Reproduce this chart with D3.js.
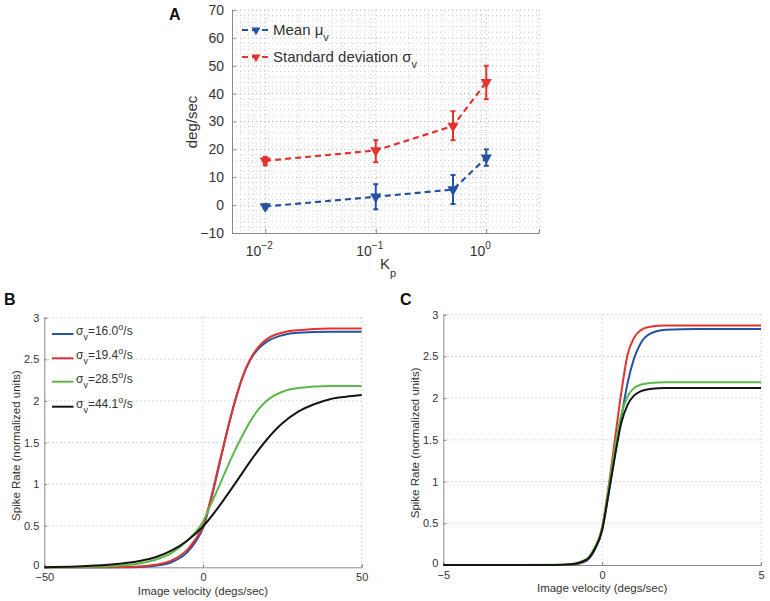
<!DOCTYPE html>
<html>
<head>
<meta charset="utf-8">
<script src="https://cdn.jsdelivr.net/npm/d3@7"></script>
<style>
body { margin: 0; background: #fff; }
svg { display: block; font-family: "Liberation Sans", Arial, Helvetica, sans-serif; }
</style>
</head>
<body>
<svg id="chart" width="770" height="601"></svg>
<script>
// ---------- Panel A data ----------
const kp = [0.01, 0.1, 0.5, 1];
const meanMu = [-0.5, 3.0, 5.6, 17.0];
const meanLo = [-1.3, -1.5, 0.4, 14.1];
const meanHi = [0.3, 7.5, 10.8, 20.0];
const sdSigma = [15.9, 19.6, 28.4, 44.1];
const sdLo = [14.3, 15.4, 23.3, 38.0];
const sdHi = [17.3, 23.3, 33.7, 50.0];
const aYTicks = [-10, 0, 10, 20, 30, 40, 50, 60, 70];
const aXTicks = [0.01, 0.1, 1];
const aXTickExp = ["−2", "−1", "0"];
const aLegend = [
  { name: "Mean μ", sub: "v", color: "#2552a3" },
  { name: "Standard deviation σ", sub: "v", color: "#e5322d" }
];

// ---------- Panel B data (velocity in degs/sec) ----------
const bTicksX = [-50, 0, 50];
const bTicksY = [0, 0.5, 1, 1.5, 2, 2.5, 3];
const bSigmaLabels = ["16.0", "19.4", "28.5", "44.1"];
const curveColors = ["#2552a3", "#e5322d", "#5cb84a", "#151515"];
const bX_blue  = [-50, -30, -20, -15, -10, -5, -2.5, 0, 2.5, 5, 7.5, 10, 12.5, 15, 17.5, 20, 25, 30, 40, 50];
const bY_blue  = [0, 0.001, 0.005, 0.02, 0.06, 0.18, 0.3, 0.47, 0.81, 1.21, 1.62, 1.99, 2.29, 2.5, 2.63, 2.71, 2.79, 2.82, 2.83, 2.83];
const bX_red   = [-50, -30, -20, -15, -10, -5, -2.5, 0, 2.5, 5, 7.5, 10, 12.5, 15, 17.5, 20, 25, 30, 40, 50];
const bY_red   = [0, 0.002, 0.01, 0.03, 0.08, 0.21, 0.33, 0.5, 0.83, 1.23, 1.62, 1.98, 2.29, 2.51, 2.65, 2.74, 2.82, 2.85, 2.87, 2.87];
const bX_green = [-50, -40, -30, -20, -15, -10, -5, 0, 2.5, 5, 7.5, 10, 12.5, 15, 17.5, 20, 25, 30, 40, 50];
const bY_green = [0, 0.003, 0.012, 0.045, 0.09, 0.17, 0.32, 0.55, 0.76, 0.97, 1.19, 1.4, 1.59, 1.76, 1.9, 2.0, 2.11, 2.155, 2.18, 2.18];
const bX_black = [-50, -40, -30, -20, -15, -10, -5, 0, 5, 10, 15, 20, 25, 30, 35, 40, 45, 50];
const bY_black = [0.002, 0.01, 0.03, 0.075, 0.12, 0.2, 0.32, 0.49, 0.73, 1.0, 1.28, 1.53, 1.73, 1.87, 1.96, 2.02, 2.05, 2.07];

// ---------- Panel C data (velocity in degs/sec) ----------
const cTicksX = [-5, 0, 5];
const cTicksY = [0, 0.5, 1, 1.5, 2, 2.5, 3];
const cX_blue  = [-5, -1.5, -1, -0.5, -0.25, 0, 0.2, 0.4, 0.6, 0.8, 1.0, 1.2, 1.5, 2, 3, 5];
const cY_blue  = [0, 0, 0.003, 0.05, 0.17, 0.42, 0.85, 1.32, 1.76, 2.18, 2.47, 2.65, 2.77, 2.82, 2.83, 2.83];
const cX_red   = [-5, -1.5, -1, -0.5, -0.25, 0, 0.2, 0.4, 0.6, 0.8, 1.0, 1.2, 1.5, 2, 3, 5];
const cY_red   = [0, 0, 0.003, 0.06, 0.18, 0.45, 0.93, 1.5, 2.06, 2.52, 2.72, 2.81, 2.855, 2.87, 2.87, 2.87];
const cX_green = [-5, -1.5, -1, -0.5, -0.25, 0, 0.2, 0.4, 0.6, 0.8, 1.0, 1.2, 1.5, 2, 3, 5];
const cY_green = [0, 0.002, 0.01, 0.07, 0.2, 0.45, 0.92, 1.4, 1.8, 2.02, 2.12, 2.16, 2.18, 2.19, 2.19, 2.19];
const cX_black = [-5, -1.5, -1, -0.5, -0.25, 0, 0.2, 0.4, 0.6, 0.8, 1.0, 1.2, 1.5, 2, 3, 5];
const cY_black = [0, 0.001, 0.008, 0.06, 0.18, 0.42, 0.85, 1.3, 1.7, 1.92, 2.03, 2.08, 2.11, 2.12, 2.12, 2.12];

const svg = d3.select("#chart");
const AXIS = "#8a8a8a", GRID = "#b8b8b8", GRID_MINOR = "#d2d2d2", TXT = "#333";

function gridLine(g, x1, y1, x2, y2, color) {
  g.append("line").attr("x1", x1).attr("y1", y1).attr("x2", x2).attr("y2", y2)
    .attr("stroke", color || GRID).attr("stroke-width", 1).attr("stroke-dasharray", "1,3");
}

// ================= Panel A =================
(function () {
  const L = 232, R = 539, T = 10, B = 233;
  const x = d3.scaleLog().domain([0.005, 3]).range([L, R]);
  const y = d3.scaleLinear().domain([-10, 70]).range([B, T]);
  const g = svg.append("g");

  // grid: minor + major
  const gg = g.append("g");
  const xGrid = [];
  [0.001, 0.01, 0.1, 1].forEach(d => { for (let k = 1; k <= 9; k++) { const v = d * k; if (v > 0.005 && v < 3.0001) xGrid.push(v); } });
  xGrid.forEach(v => gridLine(gg, x(v), T, x(v), B, aXTicks.includes(v) || v === 3 ? GRID : GRID_MINOR));
  d3.range(-8, 71, 2).forEach(v => gridLine(gg, L, y(v), R, y(v), v % 10 === 0 ? GRID : GRID_MINOR));

  // axes (left + bottom) via d3 axes
  const yAxis = g.append("g").attr("transform", `translate(${L},0)`)
    .call(d3.axisLeft(y).tickValues(aYTicks).tickSize(-4).tickPadding(8).tickFormat(d => d < 0 ? "−" + Math.abs(d) : d));
  yAxis.select(".domain").attr("stroke", AXIS);
  yAxis.selectAll(".tick line").attr("stroke", AXIS);
  yAxis.selectAll("text").attr("fill", TXT).attr("font-size", 14).attr("font-family", "Liberation Sans, Arial, sans-serif");

  const xAxis = g.append("g").attr("transform", `translate(0,${B})`)
    .call(d3.axisBottom(x).tickValues(aXTicks).tickSize(-4).tickFormat(""));
  xAxis.select(".domain").attr("stroke", AXIS);
  xAxis.selectAll(".tick line").attr("stroke", AXIS);
  aXTicks.forEach((v, i) => {
    const t = g.append("text").attr("x", x(v) - 6).attr("y", 256).attr("text-anchor", "middle")
      .attr("font-size", 14).attr("fill", TXT);
    t.append("tspan").text("10");
    t.append("tspan").attr("dy", -7).attr("font-size", 10).text(aXTickExp[i]);
  });

  // labels
  g.append("text").attr("transform", `translate(197,122) rotate(-90)`).attr("text-anchor", "middle")
    .attr("font-size", 15).attr("fill", TXT).text("deg/sec");
  const kl = g.append("text").attr("x", 380).attr("y", 269).attr("font-size", 15).attr("fill", TXT);
  kl.append("tspan").text("K");
  kl.append("tspan").attr("dy", 8).attr("font-size", 11).text("p");
  g.append("text").attr("x", 169).attr("y", 20).attr("font-size", 16).attr("font-weight", "bold").attr("fill", "#111").text("A");

  const tri = d3.symbol().type(d3.symbolTriangle).size(55);
  const series = [
    { v: meanMu, lo: meanLo, hi: meanHi, c: aLegend[0].color },
    { v: sdSigma, lo: sdLo, hi: sdHi, c: aLegend[1].color }
  ];
  const line = d3.line().x((d, i) => x(kp[i])).y(d => y(d));
  series.forEach(s => {
    g.append("path").attr("d", line(s.v)).attr("fill", "none").attr("stroke", s.c)
      .attr("stroke-width", 2.2).attr("stroke-dasharray", "6,4");
    kp.forEach((k, i) => {
      const cx = x(k);
      g.append("line").attr("x1", cx).attr("x2", cx).attr("y1", y(s.lo[i])).attr("y2", y(s.hi[i]))
        .attr("stroke", s.c).attr("stroke-width", 2);
      [s.lo[i], s.hi[i]].forEach(e => g.append("line").attr("x1", cx - 2.5).attr("x2", cx + 2.5)
        .attr("y1", y(e)).attr("y2", y(e)).attr("stroke", s.c).attr("stroke-width", 2));
      g.append("path").attr("d", tri).attr("transform", `translate(${cx},${y(s.v[i])}) rotate(180)`)
        .attr("fill", s.c);
    });
  });

  // legend
  aLegend.forEach((d, i) => {
    const ly = 30 + i * 27;
    g.append("line").attr("x1", 242).attr("x2", 270).attr("y1", ly).attr("y2", ly)
      .attr("stroke", d.color).attr("stroke-width", 2.2).attr("stroke-dasharray", "6,4");
    g.append("path").attr("d", d3.symbol().type(d3.symbolTriangle).size(35))
      .attr("transform", `translate(256,${ly}) rotate(180)`).attr("fill", d.color);
    const t = g.append("text").attr("x", 273).attr("y", ly + 5).attr("font-size", 15).attr("fill", TXT);
    t.append("tspan").text(d.name);
    t.append("tspan").attr("dy", 6).attr("font-size", 11).text(d.sub);
  });
})();

// ================= Panels B and C =================
function curvePanel(opt) {
  const { L, R, T, B, xDom, xTicks, yTicks, curves, letter, letterX, ylabX, xlabY } = opt;
  const x = d3.scaleLinear().domain(xDom).range([L, R]);
  const y = d3.scaleLinear().domain([0, 3]).range([B, T]);
  const g = svg.append("g");
  const gg = g.append("g");
  xTicks.slice(1).forEach(v => gridLine(gg, x(v), T, x(v), B));
  yTicks.slice(1).forEach(v => gridLine(gg, L, y(v), R, y(v)));

  const fmt = d => (d < 0 ? "−" + Math.abs(d) : String(d));
  const yAxis = g.append("g").attr("transform", `translate(${L},0)`)
    .call(d3.axisLeft(y).tickValues(yTicks).tickSize(-3).tickPadding(5).tickFormat(fmt));
  const xAxis = g.append("g").attr("transform", `translate(0,${B})`)
    .call(d3.axisBottom(x).tickValues(xTicks).tickSize(-3).tickPadding(5).tickFormat(fmt));
  [yAxis, xAxis].forEach(a => {
    a.select(".domain").attr("stroke", AXIS);
    a.selectAll(".tick line").attr("stroke", AXIS);
    a.selectAll("text").attr("fill", TXT).attr("font-size", 11).attr("font-family", "Liberation Sans, Arial, sans-serif");
  });
  // nudge the "0" y label up slightly so it clears the first x label
  yAxis.selectAll(".tick text").filter(d => d === 0).attr("dy", "0.1em");
  xAxis.selectAll(".tick text").attr("dy", "0.8em");

  const line = d3.line().x(d => x(d[0])).y(d => y(d[1])).curve(d3.curveMonotoneX);
  curves.forEach(c => {
    g.append("path").attr("d", line(c.xs.map((v, i) => [v, c.ys[i]])))
      .attr("fill", "none").attr("stroke", c.color).attr("stroke-width", 2);
  });

  g.append("text").attr("x", (L + R) / 2).attr("y", xlabY).attr("text-anchor", "middle")
    .attr("font-size", 11.5).attr("fill", TXT).text("Image velocity (degs/sec)");
  g.append("text").attr("transform", `translate(${ylabX},${(T + B) / 2 + 3}) rotate(-90)`).attr("text-anchor", "middle")
    .attr("font-size", 11.5).attr("fill", TXT).text("Spike Rate (normalized units)");
  g.append("text").attr("x", letterX).attr("y", 305).attr("font-size", 16).attr("font-weight", "bold")
    .attr("fill", "#111").text(letter);
  return g;
}

const gB = curvePanel({
  L: 44.3, R: 361.7, T: 317.7, B: 567.3, xDom: [-50, 50], xTicks: bTicksX, yTicks: bTicksY,
  letter: "B", letterX: 4, ylabX: 20, xlabY: 595,
  curves: [
    { xs: bX_blue, ys: bY_blue, color: curveColors[0] },
    { xs: bX_red, ys: bY_red, color: curveColors[1] },
    { xs: bX_green, ys: bY_green, color: curveColors[2] },
    { xs: bX_black, ys: bY_black, color: curveColors[3] }
  ]
});
// legend for B
bSigmaLabels.forEach((s, i) => {
  const ly = [334, 358.3, 381.7, 406.7][i];
  gB.append("line").attr("x1", 52).attr("x2", 73.5).attr("y1", ly).attr("y2", ly)
    .attr("stroke", curveColors[i]).attr("stroke-width", 2);
  const t = gB.append("text").attr("x", 76).attr("y", ly + 1).attr("font-size", 12).attr("fill", TXT);
  t.append("tspan").text("σ");
  t.append("tspan").attr("dy", 5).attr("font-size", 9).text("v");
  t.append("tspan").attr("dy", -5).text("=" + s);
  t.append("tspan").attr("dy", -5).attr("font-size", 9).text("o");
  t.append("tspan").attr("dy", 5).text("/s");
});

curvePanel({
  L: 443.3, R: 761, T: 314.7, B: 565, xDom: [-5, 5], xTicks: cTicksX, yTicks: cTicksY,
  letter: "C", letterX: 400, ylabX: 419, xlabY: 592,
  curves: [
    { xs: cX_blue, ys: cY_blue, color: curveColors[0] },
    { xs: cX_red, ys: cY_red, color: curveColors[1] },
    { xs: cX_green, ys: cY_green, color: curveColors[2] },
    { xs: cX_black, ys: cY_black, color: curveColors[3] }
  ]
});
</script>
</body>
</html>
